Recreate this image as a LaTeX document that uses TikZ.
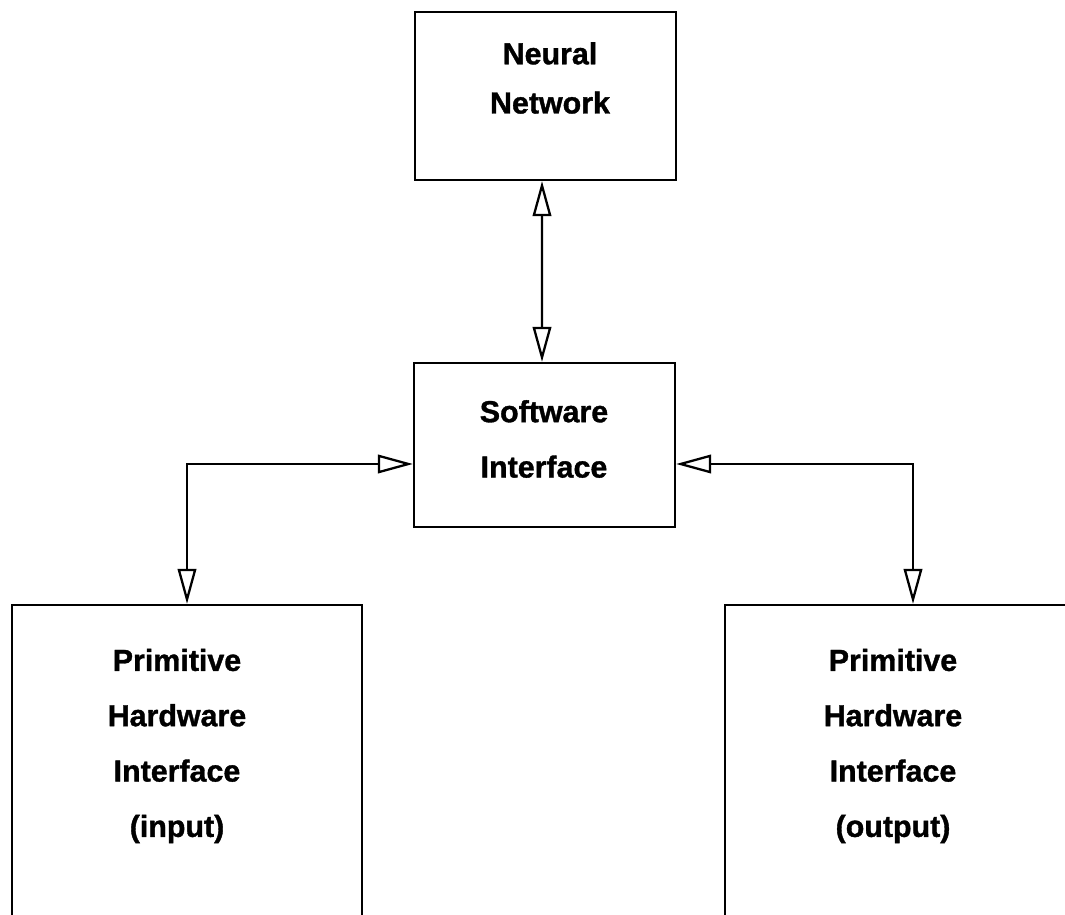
\documentclass[tikz,border=0pt]{standalone}
\usepackage{fontspec}
\setmainfont{Liberation Sans}[BoldFeatures={FakeBold=1.2}]
\usetikzlibrary{arrows.meta}

\begin{document}
\begin{tikzpicture}[x=0.02cm,y=-0.02cm,
  blk/.style={draw,line width=1.3pt,inner sep=0pt},
  lbl/.style={font=\fontsize{17.3}{31.5}\selectfont\bfseries,align=center},
  link/.style={line width=1.3pt,
    arrows={Triangle[open,length=7mm,width=3.7mm]-Triangle[open,length=7mm,width=3.7mm]}}]
\clip (0,0) rectangle (1065,915);
% boxes
\node[blk,minimum width=5.22cm,minimum height=3.36cm] (nn) at (545.5,96) {};
\node[blk,minimum width=5.22cm,minimum height=3.28cm] (sw) at (544.5,445) {};
\node[blk,minimum width=7cm,minimum height=6.4cm] (hwin) at (187,765) {};
\node[blk,minimum width=7.52cm,minimum height=6.4cm] (hwout) at (913,765) {};
% texts
\node[lbl,font=\fontsize{17.3}{28}\selectfont\bfseries] (nntxt) at (550,78) {Neural\\Network};
\node[lbl] (swtxt) at (544,439) {Software\\Interface};
\node[lbl] (hwintxt) at (177,746) {Primitive\\Hardware\\Interface\\(input)};
\node[lbl] (hwouttxt) at (893,746) {Primitive\\Hardware\\Interface\\(output)};
% links
\draw[link] ([xshift=-0.07cm]nn.south) -- ([xshift=-0.05cm]sw.north);
\draw[link] (hwin.north) |- ([yshift=-0.38cm]sw.west);
\draw[link] (hwout.north) |- ([yshift=-0.38cm]sw.east);
\end{tikzpicture}
\end{document}
